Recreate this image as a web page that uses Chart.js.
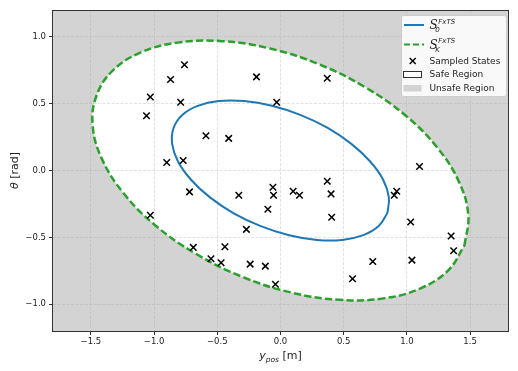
<!DOCTYPE html>
<html>
<head>
<meta charset="utf-8">
<script src="https://cdn.jsdelivr.net/npm/chart.js@4.4.0/dist/chart.umd.min.js"></script>
<style>
html, body { margin: 0; padding: 0; background: #fff; }
#wrap { position: relative; width: 518px; height: 371px; }
#unsafe { position: absolute; background: #d3d3d3; }
#plot { position: absolute; left: 0; top: 0; }
</style>
</head>
<body>
<div id="wrap"><div id="unsafe"></div><canvas id="plot" width="518" height="371"></canvas></div>
<script>
var xTicks = [-1.5, -1.0, -0.5, 0.0, 0.5, 1.0, 1.5];
var yTicks = [-1.0, -0.5, 0.0, 0.5, 1.0];

// S_K^FxTS boundary (green dashed)
var safeX = [1.456, 1.486, 1.413, 1.245, 0.992, 0.671, 0.305, -0.083, -0.464, -0.815, -1.109, -1.328,
             -1.456, -1.486, -1.413, -1.245, -0.992, -0.671, -0.305, 0.083, 0.464, 0.815, 1.109, 1.328];
var safeY = [-0.559, -0.334, -0.087, 0.166, 0.409, 0.622, 0.794, 0.912, 0.967, 0.956, 0.881, 0.746,
             0.559, 0.334, 0.087, -0.166, -0.409, -0.622, -0.794, -0.912, -0.967, -0.956, -0.881, -0.746];

// S_0^FxTS boundary (blue)
var initX = [0.846, 0.857, 0.811, 0.708, 0.558, 0.370, 0.156, -0.068, -0.288, -0.488, -0.655, -0.777,
             -0.846, -0.857, -0.811, -0.708, -0.558, -0.370, -0.156, 0.068, 0.288, 0.488, 0.655, 0.777];
var initY = [-0.318, -0.199, -0.067, 0.069, 0.201, 0.320, 0.416, 0.484, 0.519, 0.519, 0.483, 0.415,
             0.318, 0.199, 0.067, -0.069, -0.201, -0.320, -0.416, -0.484, -0.519, -0.519, -0.483, -0.415];

// sampled states
var sampleX = [-0.76, -0.87, -1.03, -0.79, -1.06, -0.59, -0.41, -0.90, -0.77, -0.19, 0.37, -0.03, 1.10,
               -0.72, -0.33, -0.06, -0.055, -0.10, -0.27, -1.03, -0.69, -0.44, -0.55, -0.47, -0.24, -0.12,
               -0.04, 0.10, 0.15, 0.37, 0.40, 0.405, 0.92, 0.90, 1.03, 1.35, 1.37, 0.73, 1.04, 0.57];
var sampleY = [0.79, 0.68, 0.55, 0.51, 0.41, 0.26, 0.24, 0.06, 0.075, 0.70, 0.69, 0.51, 0.03,
               -0.16, -0.185, -0.125, -0.185, -0.29, -0.44, -0.335, -0.575, -0.57, -0.66, -0.69, -0.70, -0.715,
               -0.85, -0.155, -0.185, -0.08, -0.175, -0.35, -0.155, -0.185, -0.385, -0.49, -0.60, -0.68, -0.67, -0.81];

function pts(xs, ys, close) {
    var out = xs.map(function (x, i) { return {x: x, y: ys[i]}; });
    if (close) out.push({x: xs[0], y: ys[0]});
    return out;
}

function fmt(v) {
    return (v < 0 ? '\u2212' : '') + Math.abs(v).toFixed(1);
}

var FONT = '"DejaVu Sans", sans-serif';
var gridColor = 'rgba(170,170,170,0.45)';

var sceneryPlugin = {
    id: 'scenery',
    afterLayout: function (chart) {
        var a = chart.chartArea;
        var el = document.getElementById('unsafe');
        el.style.left = a.left + 'px';
        el.style.top = a.top + 'px';
        el.style.width = (a.right - a.left) + 'px';
        el.style.height = (a.bottom - a.top) + 'px';
    },
    afterDraw: function (chart) {
        var ctx = chart.ctx;
        var a = chart.chartArea;
        ctx.save();
        // frame
        ctx.strokeStyle = '#333';
        ctx.lineWidth = 1;
        ctx.strokeRect(a.left - 0.5, a.top + 0.5, a.right - a.left + 1, a.bottom - a.top);

        // x title: y_pos [m]
        ctx.fillStyle = '#222';
        ctx.textBaseline = 'alphabetic';
        var cx = (a.left + a.right) / 2;
        ctx.font = 'italic 11px ' + FONT;
        var w1 = ctx.measureText('y').width;
        ctx.font = 'italic 7.5px ' + FONT;
        var w2 = ctx.measureText('pos').width;
        ctx.font = '11px ' + FONT;
        var w3 = ctx.measureText(' [m]').width;
        var x0 = cx - (w1 + w2 + w3) / 2;
        ctx.font = 'italic 11px ' + FONT;
        ctx.fillText('y', x0, 359);
        ctx.font = 'italic 7.5px ' + FONT;
        ctx.fillText('pos', x0 + w1, 362);
        ctx.font = '11px ' + FONT;
        ctx.fillText(' [m]', x0 + w1 + w2, 359);

        // y title: theta [rad]
        ctx.save();
        ctx.translate(18, (a.top + a.bottom) / 2);
        ctx.rotate(-Math.PI / 2);
        ctx.font = 'italic 11px ' + FONT;
        var t1 = ctx.measureText('\u03b8').width;
        ctx.font = '11px ' + FONT;
        var t2 = ctx.measureText(' [rad]').width;
        var s0 = -(t1 + t2) / 2;
        ctx.font = 'italic 11px ' + FONT;
        ctx.fillText('\u03b8', s0, 0);
        ctx.font = '11px ' + FONT;
        ctx.fillText(' [rad]', s0 + t1, 0);
        ctx.restore();

        // legend
        var lx = 401.5, ly = 15.5, lw = 105, lh = 81;
        ctx.beginPath();
        ctx.roundRect(lx, ly, lw, lh, 2);
        ctx.fillStyle = 'rgba(255,255,255,0.85)';
        ctx.fill();
        ctx.strokeStyle = '#cccccc';
        ctx.lineWidth = 1;
        ctx.stroke();

        function mathLabel(x, yb, sub) {
            ctx.fillStyle = '#222';
            ctx.font = 'italic 12px "DejaVu Serif", serif';
            ctx.fillText('S', x, yb);
            var ws = ctx.measureText('S').width;
            ctx.font = 'italic 7px ' + FONT;
            ctx.fillText('FxTS', x + ws + 0.5, yb - 5.5);
            ctx.fillText(sub, x + ws - 2.5, yb + 3);
        }

        // S_0
        ctx.strokeStyle = '#1f77b4';
        ctx.lineWidth = 2;
        ctx.setLineDash([]);
        ctx.beginPath();
        ctx.moveTo(404, 25); ctx.lineTo(424, 25);
        ctx.stroke();
        mathLabel(429.5, 29, '0');

        // S_K
        ctx.strokeStyle = '#2ca02c';
        ctx.setLineDash([6, 3]);
        ctx.beginPath();
        ctx.moveTo(404, 44.5); ctx.lineTo(424, 44.5);
        ctx.stroke();
        ctx.setLineDash([]);
        mathLabel(429.5, 48.5, 'K');

        // sampled states
        ctx.strokeStyle = '#000';
        ctx.lineWidth = 1.4;
        ctx.beginPath();
        ctx.moveTo(409.7, 58); ctx.lineTo(415.7, 64);
        ctx.moveTo(415.7, 58); ctx.lineTo(409.7, 64);
        ctx.stroke();

        ctx.font = '9px ' + FONT;
        ctx.fillStyle = '#222';
        ctx.textBaseline = 'middle';
        ctx.fillText('Sampled States', 429.5, 61.5);

        // safe region
        ctx.fillStyle = '#fff';
        ctx.fillRect(404, 71.5, 18, 6);
        ctx.strokeStyle = '#333';
        ctx.lineWidth = 1;
        ctx.strokeRect(403.5, 71.5, 18, 6);
        ctx.fillStyle = '#222';
        ctx.fillText('Safe Region', 429.5, 75);

        // unsafe region
        ctx.fillStyle = '#d3d3d3';
        ctx.fillRect(403.5, 85, 18, 6.5);
        ctx.fillStyle = '#222';
        ctx.fillText('Unsafe Region', 429.5, 88.5);
        ctx.restore();
    }
};

var chart = new Chart(document.getElementById('plot'), {
    type: 'scatter',
    data: {
        datasets: [{
            label: 'Sampled States',
            data: pts(sampleX, sampleY, false),
            pointStyle: 'crossRot',
            pointRadius: 4.6,
            pointBorderWidth: 1.5,
            borderColor: '#000',
            backgroundColor: '#000'
        }, {
            label: 'S0',
            data: pts(initX, initY, true),
            showLine: true,
            tension: 0.4,
            borderColor: '#1f77b4',
            borderWidth: 2,
            pointRadius: 0,
            fill: false
        }, {
            label: 'SK',
            data: pts(safeX, safeY, true),
            showLine: true,
            tension: 0.4,
            borderColor: '#2ca02c',
            borderWidth: 2.5,
            borderDash: [7.4, 3.2],
            pointRadius: 0,
            fill: 'shape',
            backgroundColor: '#ffffff'
        }]
    },
    options: {
        responsive: false,
        animation: false,
        events: [],
        layout: {padding: {left: 0, right: 10, top: 10, bottom: 0}},
        plugins: {
            legend: {display: false},
            tooltip: {enabled: false},
            filler: {drawTime: 'beforeDraw'}
        },
        scales: {
            x: {
                type: 'linear',
                min: -1.8,
                max: 1.8,
                afterBuildTicks: function (s) { s.ticks = xTicks.map(function (v) { return {value: v}; }); },
                afterFit: function (s) { s.height = 40; },
                grid: {color: gridColor, lineWidth: 0.8, tickColor: '#333', tickLength: 4, tickWidth: 1},
                border: {display: false, dash: [3, 1.5]},
                ticks: {
                    callback: function (v) { return fmt(v); },
                    font: {family: 'DejaVu Sans', size: 8.5},
                    color: '#222',
                    padding: 2,
                    maxRotation: 0
                }
            },
            y: {
                type: 'linear',
                min: -1.2,
                max: 1.2,
                afterBuildTicks: function (s) { s.ticks = yTicks.map(function (v) { return {value: v}; }); },
                afterFit: function (s) { s.width = 53; },
                grid: {color: gridColor, lineWidth: 0.8, tickColor: '#333', tickLength: 4, tickWidth: 1},
                border: {display: false, dash: [3, 1.5]},
                ticks: {
                    callback: function (v) { return fmt(v); },
                    font: {family: 'DejaVu Sans', size: 8.5},
                    color: '#222',
                    padding: 3
                }
            }
        }
    },
    plugins: [sceneryPlugin]
});
</script>
</body>
</html>
